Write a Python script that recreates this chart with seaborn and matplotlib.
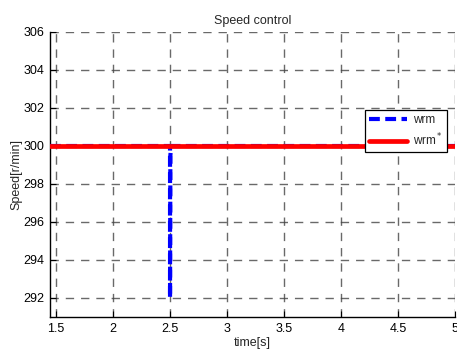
import matplotlib
matplotlib.use("Agg")
import matplotlib.pyplot as plt
import seaborn as sns
import pandas as pd

time_wrm = [1.447, 2.500, 2.500, 2.503, 2.510, 5.0]
wrm = [300.0, 300.0, 292.0, 299.5, 300.0, 300.0]
time_ref = [1.447, 5.0]
wrm_ref = [300.0, 300.0]

xticks = [1.5, 2, 2.5, 3, 3.5, 4, 4.5, 5]
xticklabels = ["1.5", "2", "2.5", "3", "3.5", "4", "4.5", "5"]
yticks = [292, 294, 296, 298, 300, 302, 304, 306]

sns.set_style("white")
plt.rcParams['font.family'] = ['Liberation Sans', 'DejaVu Sans']

fig = plt.figure(figsize=(4.57, 3.49), dpi=100)
ax = fig.add_axes([50/457, 32/349, 405/457, 285/349])

df1 = pd.DataFrame({"t": time_wrm, "v": wrm})
df2 = pd.DataFrame({"t": time_ref, "v": wrm_ref})
sns.lineplot(data=df1, x="t", y="v", ax=ax, color="#0000ff", lw=3.0,
             linestyle=(0, (2.6, 1.3)), label="wrm", sort=False,
             estimator=None, errorbar=None, zorder=3)
sns.lineplot(data=df2, x="t", y="v", ax=ax, color="#ff0000", lw=3.4,
             label="wrm$^*$", sort=False, estimator=None, errorbar=None,
             zorder=4)

ax.set_xlim(1.447, 5.0)
ax.set_ylim(291, 306)
ax.set_xticks(xticks)
ax.set_xticklabels(xticklabels)
ax.set_yticks(yticks)
ax.grid(True, color="#444444", linestyle=(0, (6, 5)), lw=1.0, alpha=0.8)
ax.tick_params(direction="in", length=4, width=0.8, labelsize=9, colors="black",
               pad=4, left=True, bottom=True)
for s in ["top", "right"]:
    ax.spines[s].set_visible(False)
for s in ["left", "bottom"]:
    ax.spines[s].set_color("black")
    ax.spines[s].set_linewidth(1.0)

ax.set_title("Speed control", fontsize=9, pad=6)
ax.set_xlabel("time[s]", fontsize=9, labelpad=2)
ax.set_ylabel("Speed[r/min]", fontsize=9, labelpad=1)

leg = ax.legend(loc="upper right", bbox_to_anchor=((447-50)/405, (317-110)/285),
                fontsize=8.5, frameon=True, fancybox=False, handlelength=3.2,
                borderpad=0.35, labelspacing=0.45, handletextpad=0.5,
                borderaxespad=0, framealpha=1.0)
leg.get_frame().set_edgecolor("black")
leg.get_frame().set_linewidth(0.9)
leg.set_zorder(10)

fig.savefig("out.png", dpi=100)
